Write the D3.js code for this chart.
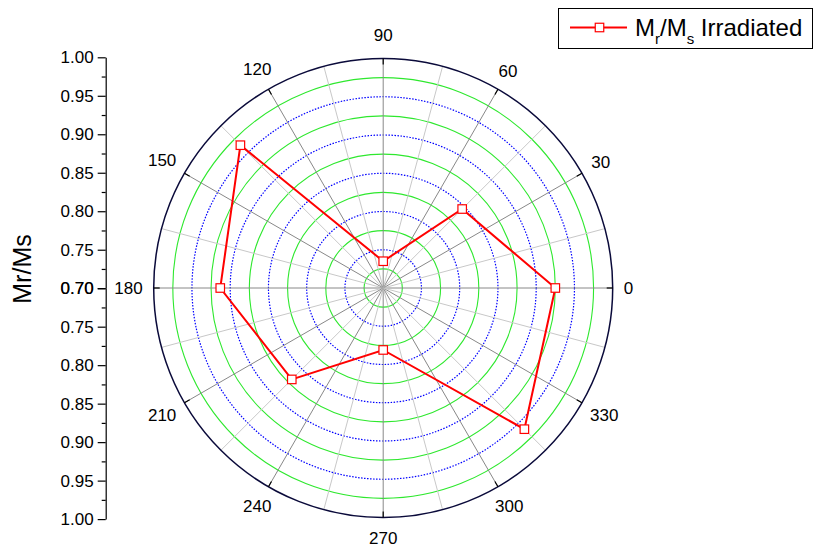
<!DOCTYPE html>
<html><head><meta charset="utf-8">
<script src="https://cdn.jsdelivr.net/npm/d3@7"></script>
<style>body{margin:0;background:#fff}svg{display:block;font-family:Arial,"Liberation Sans",sans-serif}</style>
</head><body><svg id="c" width="815" height="550"></svg>
<script>
const angles = [0, 45, 90, 135, 180, 225, 270, 315];
const values = [0.925, 0.846, 0.735, 0.964, 0.913, 0.869, 0.781, 0.961];
const angleLabels = [0, 30, 60, 90, 120, 150, 180, 210, 240, 270, 300, 330];
const radialTicks = [0.70, 0.75, 0.80, 0.85, 0.90, 0.95, 1.00];
const seriesName = ["M", "r", "/M", "s", " Irradiated"];
const axisTitle = "Mr/Ms";

const svg = d3.select("#c");
const cx = 383.2, cy = 288, R = 229.5;
const r = d3.scaleLinear().domain([0.70, 1.00]).range([0, R]);
const rad = d => d * Math.PI / 180;
const px = (a, v) => cx + r(v) * Math.cos(rad(a));
const py = (a, v) => cy - r(v) * Math.sin(rad(a));

const g = svg.append("g");
// grid circles every 0.025
const rings = d3.range(0.725, 0.999, 0.025);
rings.forEach((v, i) => {
  const green = i % 2 === 0;
  g.append("circle").attr("cx", cx).attr("cy", cy).attr("r", r(v))
    .attr("fill", "none")
    .attr("stroke", green ? "#2ee82e" : "#0000ff")
    .attr("stroke-width", green ? 1.1 : 1.2)
    .attr("stroke-dasharray", green ? null : "1.5,1.5");
});
// spokes
d3.range(0, 360, 15).forEach(a => {
  const major = a % 30 === 0;
  g.append("line").attr("x1", cx).attr("y1", cy)
    .attr("x2", px(a, 1.0)).attr("y2", py(a, 1.0))
    .attr("stroke", major ? "#888" : "#c8c8c8").attr("stroke-width", 1);
});
// outer circle
g.append("circle").attr("cx", cx).attr("cy", cy).attr("r", R)
  .attr("fill", "none").attr("stroke", "#0a0a3a").attr("stroke-width", 1.5);
// ticks at major angles
angleLabels.forEach(a => {
  g.append("line")
    .attr("x1", px(a, 1.0)).attr("y1", py(a, 1.0))
    .attr("x2", cx + (R - 6) * Math.cos(rad(a))).attr("y2", cy - (R - 6) * Math.sin(rad(a)))
    .attr("stroke", "#000").attr("stroke-width", 1.2);
});
// angle labels, placed radially outside the circle
angleLabels.forEach(a => {
  const t = g.append("text").attr("font-size", 17).attr("fill", "#000")
    .attr("text-anchor", "middle").attr("dominant-baseline", "central").text(a);
  const w = t.node().getBBox().width;
  const c = Math.cos(rad(a)), s = Math.sin(rad(a));
  let d;
  if (a === 90) d = 23;
  else if (a === 270) d = 20.5;
  else d = 11 + Math.abs(c) * w / 2 + Math.abs(s) * 5;
  t.attr("x", cx + (R + d) * c).attr("y", cy - (R + d) * s);
});

// data polygon
const pts = angles.map((a, i) => [px(a, values[i]), py(a, values[i])]);
g.append("path").attr("d", d3.line().curve(d3.curveLinearClosed)(pts))
  .attr("fill", "none").attr("stroke", "#ff0000").attr("stroke-width", 2);
const ms = 8.5;
g.selectAll("rect.m").data(pts).join("rect").attr("class", "m")
  .attr("x", d => d[0] - ms / 2).attr("y", d => d[1] - ms / 2)
  .attr("width", ms).attr("height", ms)
  .attr("fill", "#fff").attr("stroke", "#ff0000").attr("stroke-width", 1.2);

// left axis
const ax = 105.7, acy = 288.2, Ra = 230.9;
const yUp = d3.scaleLinear().domain([0.70, 1.00]).range([acy, acy - Ra]);
const yDn = d3.scaleLinear().domain([0.70, 1.00]).range([acy, acy + Ra]);
const minor = d3.range(0.725, 1.0, 0.05);
[yUp, yDn].forEach(sc => {
  const a = svg.append("g").attr("transform", `translate(${ax},0)`)
    .call(d3.axisLeft(sc).tickValues(radialTicks).tickFormat(d3.format(".2f")).tickSize(8).tickSizeOuter(0));
  a.selectAll("text").attr("font-size", 17).attr("font-family", "Arial, 'Liberation Sans', sans-serif").attr("fill", "#000").attr("x", -12);
  a.select(".domain").attr("stroke", "#000").attr("stroke-width", 1.2);
  a.selectAll(".tick line").attr("stroke", "#000").attr("stroke-width", 1.2);
  const mg = svg.append("g").attr("transform", `translate(${ax},0)`)
    .call(d3.axisLeft(sc).tickValues(minor).tickFormat("").tickSize(4).tickSizeOuter(0));
  mg.select(".domain").remove();
  mg.selectAll(".tick line").attr("stroke", "#000").attr("stroke-width", 1.2);
});
svg.append("text").attr("transform", `translate(31,269) rotate(-90)`)
  .attr("text-anchor", "middle").attr("font-size", 25).attr("fill", "#000").text(axisTitle);

// legend
const lg = svg.append("g");
lg.append("rect").attr("x", 558.5).attr("y", 8.5).attr("width", 254).attr("height", 40)
  .attr("fill", "#fff").attr("stroke", "#000").attr("stroke-width", 1);
lg.append("line").attr("x1", 570).attr("x2", 627).attr("y1", 27.5).attr("y2", 27.5)
  .attr("stroke", "#ff0000").attr("stroke-width", 2);
lg.append("rect").attr("x", 599.5 - ms / 2).attr("y", 27.5 - ms / 2).attr("width", ms).attr("height", ms)
  .attr("fill", "#fff").attr("stroke", "#ff0000").attr("stroke-width", 1.2);
const lt = lg.append("text").attr("x", 635).attr("y", 36).attr("font-size", 24).attr("fill", "#000");
lt.append("tspan").text(seriesName[0]);
lt.append("tspan").attr("dy", 8).attr("font-size", 15).text(seriesName[1]);
lt.append("tspan").attr("dy", -8).text(seriesName[2]);
lt.append("tspan").attr("dy", 8).attr("font-size", 15).text(seriesName[3]);
lt.append("tspan").attr("dy", -8).text(seriesName[4]);
</script></body></html>
